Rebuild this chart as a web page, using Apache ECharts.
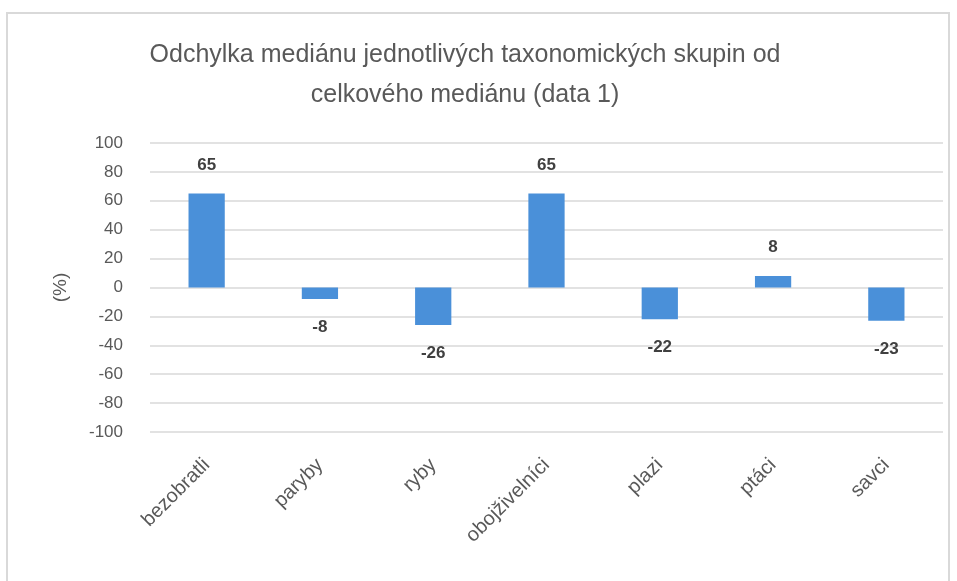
<!DOCTYPE html>
<html>
<head>
<meta charset="utf-8">
<script src="https://cdn.jsdelivr.net/npm/echarts@6/dist/echarts.min.js"></script>
<style>
  html, body { margin: 0; padding: 0; background: #fff; }
  #frame { position: absolute; left: 6px; top: 12px; width: 944px; height: 580px; border: 2px solid #d9d9d9; border-bottom: none; box-sizing: border-box; }
  #chart { position: absolute; left: 0; top: 0; width: 957px; height: 581px; }
</style>
</head>
<body>
<div id="frame"></div>
<div id="chart"></div>
<script>
const categories = ['bezobratli', 'paryby', 'ryby', 'obojživelníci', 'plazi', 'ptáci', 'savci'];
const values = [65, -8, -26, 65, -22, 8, -23];
const yTicks = { min: -100, max: 100, interval: 20 };
const titleText = 'Odchylka mediánu jednotlivých taxonomických skupin od\ncelkového mediánu (data 1)';

const font = "'Liberation Sans Narrow', 'Arial Narrow', 'Liberation Sans', sans-serif";
const chart = echarts.init(document.getElementById('chart'));

chart.setOption({
  backgroundColor: 'transparent',
  animation: false,
  title: {
    text: titleText,
    left: 460, top: 30, textAlign: 'center',
    textStyle: { fontFamily: font, fontSize: 25, fontWeight: 'normal', color: '#595959', lineHeight: 40 }
  },
  grid: { left: 150, right: 14, top: 143, bottom: 149 },
  xAxis: {
    type: 'category',
    data: categories,
    axisLine: { show: false },
    axisTick: { show: false },
    axisLabel: { rotate: 45, margin: 30, fontFamily: font, fontSize: 20, color: '#595959', interval: 0 }
  },
  yAxis: {
    type: 'value',
    min: yTicks.min, max: yTicks.max, interval: yTicks.interval,
    name: '(%)',
    nameLocation: 'middle',
    nameGap: 80,
    nameRotate: 90,
    nameTextStyle: { fontFamily: font, fontSize: 19, color: '#595959' },
    axisLine: { show: false },
    axisTick: { show: false },
    axisLabel: { margin: 27, fontFamily: font, fontSize: 17, color: '#595959' },
    splitLine: { lineStyle: { color: '#d9d9d9', width: 1.5 } }
  },
  series: [{
    type: 'bar',
    // positive values above the bar, negative below it
    data: values.map(v => ({ value: v, label: { position: v >= 0 ? 'top' : 'bottom' } })),
    barWidth: '32%',
    itemStyle: { color: '#4a90d9' },
    label: {
      show: true,
      distance: 20,
      fontFamily: font, fontSize: 17, fontWeight: 'bold', color: '#404040'
    }
  }]
});
</script>
</body>
</html>
